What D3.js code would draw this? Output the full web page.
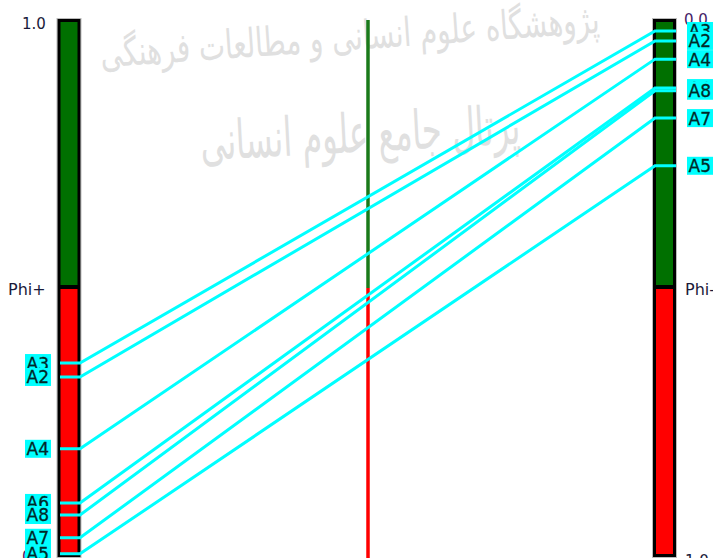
<!DOCTYPE html>
<html><head><meta charset="utf-8">
<script src="https://cdn.jsdelivr.net/npm/d3@7"></script>
<style>body{margin:0;background:#fff;overflow:hidden}svg{display:block}</style>
</head><body>
<svg id="c" width="713" height="558"></svg>
<script>
const alternatives = ["A3","A2","A4","A6","A8","A7","A5"];
const phiPlus  = [0.360,0.334,0.200,0.099,0.0765,0.034,0.004];
const phiMinus = [0.0205,0.039,0.073,0.127,0.132,0.183,0.272];
const axisTicksLeft = ["1.0","0.0"];
const axisTicksRight = ["0.0","1.0"];
const watermark = ["پژوهشگاه علوم انسانی و مطالعات فرهنگی","پرتال جامع علوم انسانی"];

const svg = d3.select("#c");
const yTop = 20, yBot = 556;
const yL = d3.scaleLinear().domain([0,1]).range([yBot, yTop]);
const yR = d3.scaleLinear().domain([0,1]).range([yTop, yBot]);
const mid = 0.5;
const font = "DejaVu Sans, sans-serif";

// watermark
svg.append("text").attr("x",350).attr("y",50).attr("text-anchor","middle")
  .attr("font-family",font).attr("font-size",40).attr("fill","#e0e0e0")
  .attr("textLength",500).attr("lengthAdjust","spacingAndGlyphs")
  .attr("transform","rotate(-4,350,40)").text(watermark[0]);
svg.append("text").attr("x",360).attr("y",152).attr("text-anchor","middle")
  .attr("font-family",font).attr("font-size",54).attr("fill","#e0e0e0")
  .attr("textLength",320).attr("lengthAdjust","spacingAndGlyphs")
  .attr("transform","rotate(-3,360,130)").text(watermark[1]);

// bars
function bar(x, yScale) {
  const g = svg.append("g");
  g.append("rect").attr("x",x-0.5).attr("y",yTop-1.5).attr("width",24).attr("height",yBot-yTop+3)
    .attr("fill","none").attr("stroke","#bbb").attr("stroke-width",1);
  g.append("rect").attr("x",x).attr("y",yTop-1).attr("width",23).attr("height",yBot-yTop+2)
    .attr("fill","#000");
  const yMid = yScale(mid);
  g.append("rect").attr("x",x+3).attr("y",yTop+2).attr("width",17).attr("height",yMid-yTop-5).attr("fill","#007000");
  g.append("rect").attr("x",x+3).attr("y",yMid+1).attr("width",17).attr("height",yBot-yMid-3).attr("fill","#ff0000");
}
bar(57.5, yL);
bar(653, yR);

// middle line
const xm = 368;
svg.append("line").attr("x1",xm).attr("x2",xm).attr("y1",yTop).attr("y2",yL(mid)).attr("stroke","#1a7a1a").attr("stroke-width",3.5);
svg.append("line").attr("x1",xm).attr("x2",xm).attr("y1",yL(mid)).attr("y2",558).attr("stroke","#ff0000").attr("stroke-width",3.5);

// axis texts
const tc = "#1a1a3a";
svg.append("text").attr("x",22).attr("y",29).attr("font-family",font).attr("font-size",15).attr("fill",tc).text(axisTicksLeft[0]);
svg.append("text").attr("x",22).attr("y",yL(0)+6).attr("font-family",font).attr("font-size",15).attr("fill","#442266").text(axisTicksLeft[1]);
svg.append("text").attr("x",8).attr("y",295).attr("font-family",font).attr("font-size",16).attr("fill",tc).text("Phi+");
svg.append("text").attr("x",684).attr("y",25).attr("font-family",font).attr("font-size",15).attr("fill","#442266").text(axisTicksRight[0]);
svg.append("text").attr("x",685).attr("y",295).attr("font-family",font).attr("font-size",16).attr("fill",tc).text("Phi-");
svg.append("text").attr("x",685).attr("y",yBot+10).attr("font-family",font).attr("font-size",15).attr("fill",tc).text(axisTicksRight[1]);

// lines
const data = alternatives.map((a,i)=>({a, p:phiPlus[i], m:phiMinus[i]}));
const lg = svg.append("g").attr("fill","none").attr("stroke","#00ffff").attr("stroke-width",3);
data.forEach(d=>{
  const y1 = yL(d.p), y2 = yR(d.m);
  lg.append("path").attr("d", d3.line()([[60,y1],[80,y1],[655,y2],[676,y2]]));
});

// labels
const lab = svg.append("g");
data.forEach(d=>{
  const y1 = yL(d.p);
  lab.append("rect").attr("x",25).attr("y",y1-9).attr("width",26).attr("height",18).attr("fill","#00ffff");
  lab.append("text").attr("x",26.5).attr("y",y1+6.5).attr("font-family",font).attr("font-size",17).attr("fill","#002828").attr("stroke","#002828").attr("stroke-width",0.3).text(d.a);
});
data.forEach(d=>{
  const y2 = yR(d.m);
  lab.append("rect").attr("x",687).attr("y",y2-9).attr("width",26).attr("height",18).attr("fill","#00ffff");
  lab.append("text").attr("x",688.5).attr("y",y2+6.5).attr("font-family",font).attr("font-size",17).attr("fill","#002828").attr("stroke","#002828").attr("stroke-width",0.3).text(d.a);
});
</script>
</body></html>
